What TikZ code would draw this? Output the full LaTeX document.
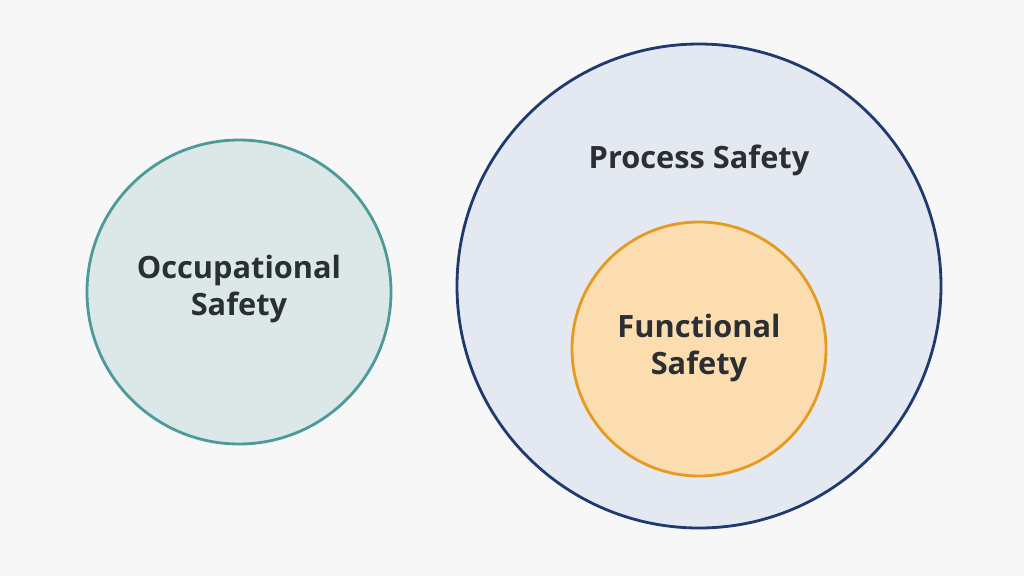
\documentclass[tikz,border=0pt]{standalone}
\usepackage{fontspec}
\setmainfont{Open Sans}
\definecolor{bgcol}{HTML}{F7F7F7}
\definecolor{occfill}{HTML}{DCE8E8}
\definecolor{occline}{HTML}{4C9A9A}
\definecolor{procfill}{HTML}{E4E8F0}
\definecolor{procline}{HTML}{1E3A6E}
\definecolor{funcfill}{HTML}{FBDDB0}
\definecolor{funcline}{HTML}{E59B22}
\definecolor{txtcol}{HTML}{2A2F33}
\tikzset{
    ring/.style={line width=1.6pt},
    lbl/.style={text=txtcol,font=\fontsize{17.5}{20.5}\selectfont\bfseries,align=center}
}
\begin{document}
\begin{tikzpicture}[x=0.02cm,y=-0.02cm]
\fill[bgcol] (0,0) rectangle (1024,576);
\useasboundingbox (0,0) rectangle (1024,576);
% left circle
\draw[ring,fill=occfill,draw=occline] (239,292) circle [radius=152];
\node[lbl] (occ) at (239,289) {Occupational\\Safety};
% nested circles
\draw[ring,fill=procfill,draw=procline] (699,286) circle [radius=242];
\node[lbl] (proc) at (699,160) {Process Safety};
\draw[ring,fill=funcfill,draw=funcline] (699,349) circle [radius=127];
\node[lbl] (func) at (699,348) {Functional\\Safety};
\end{tikzpicture}
\end{document}
